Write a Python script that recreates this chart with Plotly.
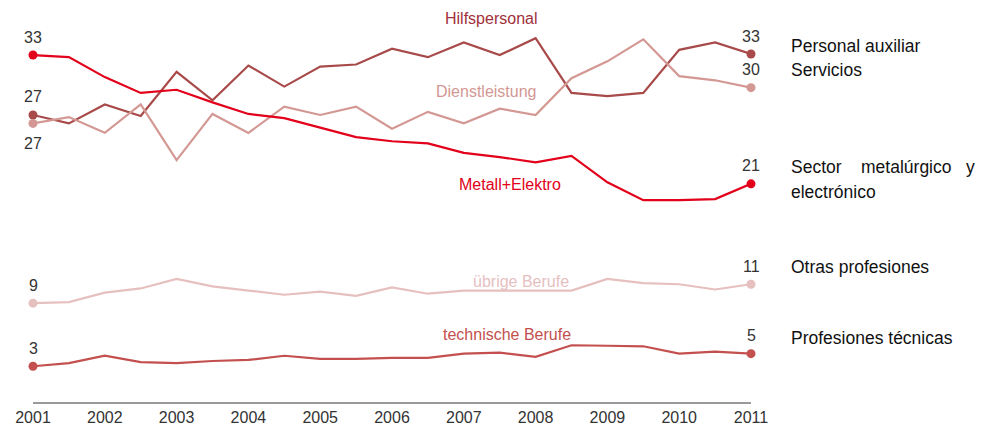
import plotly.graph_objects as go

# half-year steps 2001 .. 2011
years = [2001 + 0.5 * i for i in range(21)]

hilfspersonal = [27.3, 26.5, 28.3, 27.2, 31.4, 28.7, 32.0, 30.0, 31.9, 32.1, 33.6,
                 32.8, 34.2, 33.0, 34.6, 29.4, 29.1, 29.4, 33.5, 34.2, 33.1]
dienstleistung = [26.5, 27.1, 25.6, 28.3, 23.0, 27.4, 25.6, 28.1, 27.3, 28.1, 26.0,
                  27.6, 26.5, 27.9, 27.3, 30.8, 32.4, 34.5, 31.0, 30.6, 29.9]
metall_elektro = [33.0, 32.8, 30.9, 29.4, 29.7, 28.5, 27.4, 27.0, 26.1, 25.2, 24.8,
                  24.6, 23.7, 23.3, 22.8, 23.4, 20.9, 19.2, 19.2, 19.3, 20.75]
uebrige_berufe = [9.4, 9.5, 10.4, 10.8, 11.7, 11.0, 10.6, 10.2, 10.5, 10.1, 10.9,
                  10.3, 10.6, 10.6, 10.6, 10.6, 11.7, 11.3, 11.2, 10.7, 11.2]
technische_berufe = [3.4, 3.7, 4.4, 3.8, 3.7, 3.9, 4.0, 4.4, 4.1, 4.1, 4.2,
                     4.2, 4.6, 4.7, 4.3, 5.4, 5.35, 5.3, 4.6, 4.8, 4.6]

tick_years = list(range(2001, 2012))

series = [
    ("Hilfspersonal", hilfspersonal, "#a84a4a"),
    ("Dienstleistung", dienstleistung, "#d39893"),
    ("Metall+Elektro", metall_elektro, "#e2001a"),
    ("übrige Berufe", uebrige_berufe, "#e6c0bf"),
    ("technische Berufe", technische_berufe, "#c3504e"),
]

# inline label positions (year, value) and text colour
inline_labels = {
    "Hilfspersonal": (2007.38, 36.5, "#a0303a"),
    "Dienstleistung": (2007.32, 29.5, "#d39893"),
    "Metall+Elektro": (2007.64, 20.7, "#e2001a"),
    "übrige Berufe": (2007.80, 11.5, "#e6c0bf"),
    "technische Berufe": (2007.60, 6.45, "#c3504e"),
}

start_labels = {"Hilfspersonal": ("27", 18), "Dienstleistung": ("27", -20),
                "Metall+Elektro": ("33", 18), "übrige Berufe": ("9", 18),
                "technische Berufe": ("3", 18)}
end_labels = {"Hilfspersonal": ("33", 18), "Dienstleistung": ("30", 18),
              "Metall+Elektro": ("21", 18), "übrige Berufe": ("11", 18),
              "technische Berufe": ("5", 18)}

fig = go.Figure()
annotations = []
for name, vals, color in series:
    fig.add_trace(go.Scatter(
        x=years, y=vals, mode="lines", name=name,
        line=dict(color=color, width=2.2), cliponaxis=False, showlegend=False,
    ))
    fig.add_trace(go.Scatter(
        x=[years[0], years[-1]], y=[vals[0], vals[-1]], mode="markers",
        marker=dict(color=color, size=9), cliponaxis=False, showlegend=False,
    ))
    lx, ly, lc = inline_labels[name]
    annotations.append(dict(x=lx, y=ly, text=name, showarrow=False,
                            font=dict(color=lc, size=16, family="Liberation Sans, Arial")))
    t, s = start_labels[name]
    annotations.append(dict(x=years[0], y=vals[0], text=t, showarrow=False, yshift=s,
                            font=dict(color="#333333", size=16, family="Liberation Sans, Arial")))
    t, s = end_labels[name]
    annotations.append(dict(x=years[-1], y=vals[-1], text=t, showarrow=False, yshift=s,
                            font=dict(color="#333333", size=16, family="Liberation Sans, Arial")))

# spanish side captions
side_font = dict(color="#111111", size=17.5, family="Liberation Sans Narrow, Arial Narrow, Liberation Sans")
side_text = [
    ("Personal auxiliar", 0.915),
    ("Servicios", 0.853),
    ("Sector&nbsp;&nbsp;&nbsp;&nbsp;metalúrgico&nbsp;&nbsp;&nbsp;y", 0.604),
    ("electrónico", 0.540),
    ("Otras profesiones", 0.347),
    ("Profesiones técnicas", 0.164),
]
for txt, yp in side_text:
    annotations.append(dict(x=1.0529, y=yp, xref="paper", yref="paper", text=txt,
                            showarrow=False, xanchor="left", yanchor="middle", font=side_font))

fig.update_layout(
    width=984, height=443,
    margin=dict(l=33, r=233, t=13, b=41, autoexpand=False),
    plot_bgcolor="white", paper_bgcolor="white",
    annotations=annotations,
)
fig.update_xaxes(range=[2001, 2011], tickvals=tick_years, ticktext=[str(y) for y in tick_years],
                 showgrid=False, zeroline=False, showline=True, linecolor="#999999", linewidth=1.5,
                 ticks="", tickfont=dict(family="Liberation Sans, Arial", size=16, color="#333333"))
fig.update_yaxes(range=[0, 37], visible=False)

fig.write_html("out.html", config={"displayModeBar": False},
               post_script="document.body.style.margin='0';")
